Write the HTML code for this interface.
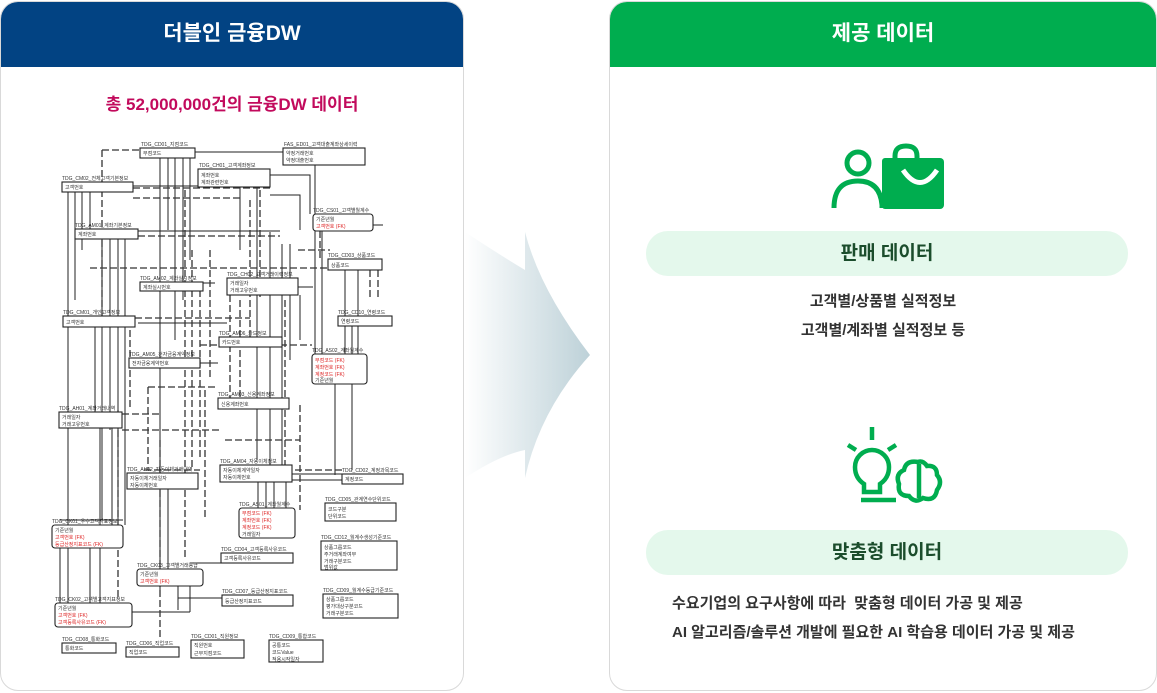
<!DOCTYPE html>
<html><head><meta charset="utf-8"><style>
body{margin:0;width:1157px;height:693px;background:#fff;overflow:hidden;position:relative;font-family:"Liberation Sans","Noto Sans CJK KR",sans-serif}
.panel{position:absolute;top:1px;height:690px;border:1px solid #d9d9d9;border-radius:18px;overflow:hidden;background:#fff;box-sizing:border-box}
.hd{height:65px;color:#fff;font-size:21px;font-weight:bold;text-align:center;line-height:64px}
.pill{position:absolute;left:36px;width:482px;height:45px;background:#e4f8ec;border-radius:22px;text-align:center;line-height:45px;font-size:19px;font-weight:bold;color:#1b4d2c}
.t{position:absolute;font-size:15px;color:#333;font-weight:bold;white-space:nowrap}
</style></head><body>
<div class="panel" style="left:0;width:464px">
 <div class="hd" style="background:#024383">더블인 금융DW</div>
 <div style="position:absolute;top:88px;width:100%;text-align:center;font-size:17px;font-weight:bold;color:#c20a5c">총 52,000,000건의 금융DW 데이터</div>
</div>
<div class="panel" style="left:609px;width:548px">
 <div class="hd" style="background:#00ad4f">제공 데이터</div>
 <div class="pill" style="top:229px">판매 데이터</div>
 <div class="t" style="top:288px;width:100%;text-align:center">고객별/상품별 실적정보</div>
 <div class="t" style="top:317px;width:100%;text-align:center">고객별/계좌별 실적정보 등</div>
 <div class="pill" style="top:528px">맞춤형 데이터</div>
 <div class="t" style="top:590px;left:62px">수요기업의 요구사항에 따라&nbsp; 맞춤형 데이터 가공 및 제공</div>
 <div class="t" style="top:619px;left:62px">AI 알고리즘/솔루션 개발에 필요한 AI 학습용 데이터 가공 및 제공</div>
</div>
<svg style="position:absolute;left:0;top:0" width="1157" height="693">
<defs><linearGradient id="g" x1="0" x2="1"><stop offset="0" stop-color="#fff"/><stop offset="1" stop-color="#bdd1d8"/></linearGradient></defs>
<path d="M465 232 Q500 255 525 270 L525 232 Q540 290 590 355 Q540 410 525 478 L525 450 Q500 455 465 478 Z" fill="url(#g)"/>
<!-- icon 1 -->
<g fill="none" stroke="#00ad4f" stroke-width="5">
<circle cx="858" cy="163" r="11"/>
<path d="M834 208 Q834 181 858 181 Q880 181 882 205 L882 208"/>
<path d="M895 160 V156 Q895 146 906 146 Q917 146 917 156 V160"/>
</g>
<rect x="894" y="158" width="50" height="51" rx="4" fill="#00ad4f"/>
<rect x="882" y="158" width="20" height="51" rx="3" fill="#00ad4f"/>
<path d="M903 170 Q920 195 937 170" stroke="#fff" stroke-width="5" fill="none"/>
<!-- icon 2 -->
<g fill="none" stroke="#00ad4f" stroke-width="4.5">
<line x1="872" y1="427" x2="872" y2="440"/><line x1="848" y1="445" x2="856" y2="450"/><line x1="896" y1="445" x2="888" y2="450"/>
<path d="M864 492 V484 Q855 478 855 467 A17 17 0 0 1 889 467 Q889 478 880 484 V492 Z"/>
<line x1="861" y1="500" x2="896" y2="500"/>
<path d="M918 462 Q906 460 904 470 Q895 474 899 484 Q897 496 909 496 Q915 504 923 498 Q935 502 937 490 Q943 482 937 475 Q937 465 927 466 Q923 460 918 462 Z"/>
<line x1="919" y1="464" x2="919" y2="498"/>
</g>
<!-- ERD -->
<g stroke="#222" stroke-width="1" fill="none">
<path d="M68 192V610M75 192V300M82 192V250M90 192V230M102 239V520M110 239V430M118 239V530M125 239V525M95 327V412M100 428V530M112 428V525M90 548V603M100 548V603M160 158V590M168 158V230M175 158V340M183 158V300M190 158V260M240 187V250M257 187V460M270 232V466M282 244V470M290 244V360M300 295V340M315 165V354M322 231V354M345 270V354M358 270V354M352 326V354M335 384V475M352 384V470M258 482V508M266 482V508M274 482V508M286 482V508M168 489V570M178 578V610M190 586V612M60 548V603"/>
<path d="M138 231H280M133 186H198M270 175H310V214M270 195H300V230M195 152H283M138 323H227M200 363H218M203 283H215M292 474H342M292 480H342M190 563H221M178 598H222M132 612H190M123 520H60M55 527V548"/>
<path d="M298 287H313M365 225H383"/>
</g>
<g stroke="#333" stroke-width="1.3" fill="none" stroke-dasharray="7,3">
<path d="M102 150H140M102 150V320M133 188H270M133 198H240M138 236H280M90 268H328M135 318H250M200 345H312M122 414H160M122 430H220M160 440V640M200 290V460M210 250V380M230 295V400M240 300V398M250 200V350M260 190V300M285 300V470M300 405V510M295 470H342M225 440H300M148 387H218M148 387V470M144 470H200M205 390V520M118 410V600M130 330V410M185 190V560M192 250V470M298 250H330M370 270V300M378 270V300M320 231V260"/>
</g>
<g stroke="#222" stroke-width="1.1" fill="#fff">
<rect x="140" y="148" width="55" height="10"/><rect x="283" y="148" width="82" height="17"/>
<rect x="198" y="169" width="72" height="18"/><rect x="62" y="182" width="71" height="10"/>
<rect x="313" y="214" width="60" height="17" rx="3"/><rect x="75" y="229" width="63" height="10"/>
<rect x="328" y="259" width="54" height="11"/><rect x="140" y="282" width="63" height="9"/>
<rect x="227" y="278" width="71" height="17"/><rect x="338" y="316" width="54" height="10"/>
<rect x="63" y="316" width="72" height="11"/><rect x="219" y="337" width="63" height="10"/>
<rect x="129" y="358" width="71" height="10"/><rect x="312" y="354" width="55" height="30" rx="3"/>
<rect x="218" y="398" width="71" height="11"/><rect x="59" y="412" width="63" height="16"/>
<rect x="127" y="473" width="71" height="16"/><rect x="220" y="465" width="72" height="17"/>
<rect x="342" y="474" width="61" height="10"/><rect x="239" y="508" width="56" height="30" rx="3"/>
<rect x="325" y="503" width="71" height="18"/><rect x="52" y="525" width="71" height="23" rx="3"/>
<rect x="321" y="541" width="76" height="29"/><rect x="221" y="553" width="72" height="10"/>
<rect x="137" y="569" width="66" height="17" rx="3"/><rect x="222" y="595" width="71" height="11"/>
<rect x="323" y="594" width="75" height="24"/><rect x="55" y="603" width="77" height="24" rx="3"/>
<rect x="62" y="643" width="54" height="10"/><rect x="126" y="647" width="53" height="10"/>
<rect x="191" y="640" width="53" height="18"/><rect x="269" y="640" width="54" height="22"/>
</g>
<g font-size="5" fill="#333" font-family="Liberation Sans,Noto Sans CJK KR,sans-serif">
<text x="141" y="146">TDG_CD01_지점코드</text><text x="284" y="146">FAS_ED01_고객대출계좌상세이력</text>
<text x="199" y="167">TDG_CH01_고객계좌정보</text><text x="62" y="180">TDG_CM02_전체고객기본정보</text>
<text x="313" y="212">TDG_CS01_고객별월계수</text><text x="75" y="227">TDG_AM01_계좌기본정보</text>
<text x="328" y="257">TDG_CD03_상품코드</text><text x="140" y="280">TDG_AM02_계좌실시정보</text>
<text x="227" y="276">TDG_CH02_고객거래이력정보</text><text x="338" y="314">TDG_CD10_연령코드</text>
<text x="63" y="314">TDG_CM01_개인고객정보</text><text x="219" y="335">TDG_AM06_카드정보</text>
<text x="129" y="356">TDG_AM05_전자금융계약정보</text><text x="312" y="352">TDG_AS02_계좌월계수</text>
<text x="218" y="396">TDG_AM03_신용계좌정보</text><text x="59" y="410">TDG_AH01_계좌거래내역</text>
<text x="127" y="471">TDG_AH02_자동이체거래내역</text><text x="220" y="463">TDG_AM04_자동이체정보</text>
<text x="342" y="472">TDG_CD02_계정과목코드</text><text x="239" y="506">TDG_AS01_계좌월계수</text>
<text x="325" y="501">TDG_CD05_관계연수단위코드</text><text x="52" y="523">TDG_CK01_우수고객지표정보</text>
<text x="321" y="539">TDG_CD12_월계수생성기준코드</text><text x="221" y="551">TDG_CD04_고객등록사유코드</text>
<text x="137" y="567">TDG_CK03_고객별거래등급</text><text x="222" y="593">TDG_CD07_등급산정지표코드</text>
<text x="323" y="592">TDG_CD09_월계수등급기준코드</text><text x="55" y="601">TDG_CK02_고객별고객지표정보</text>
<text x="62" y="641">TDG_CD08_통화코드</text><text x="126" y="645">TDG_CD06_직업코드</text>
<text x="191" y="638">TDG_CD01_직원정보</text><text x="269" y="638">TDG_CD09_통합코드</text>
<text x="143" y="155">부점코드</text><text x="286" y="155">약정거래번호</text><text x="286" y="162">약정대출번호</text>
<text x="201" y="177">계좌번호</text><text x="201" y="184">계좌관련번호</text><text x="65" y="189">고객번호</text>
<text x="316" y="221">기준년월</text><text x="316" y="228" fill="#d22">고객번호 (FK)</text><text x="78" y="236">계좌번호</text>
<text x="331" y="267">상품코드</text><text x="143" y="289">계좌실시번호</text><text x="230" y="285">거래일자</text><text x="230" y="292">거래고유번호</text>
<text x="341" y="323">연령코드</text><text x="66" y="324">고객번호</text><text x="222" y="344">카드번호</text><text x="132" y="365">전자금융계약번호</text>
<text x="315" y="362" fill="#d22">부점코드 (FK)</text><text x="315" y="369" fill="#d22">계좌번호 (FK)</text><text x="315" y="376" fill="#d22">계정코드 (FK)</text><text x="315" y="382">기준년월</text>
<text x="221" y="406">신용계좌번호</text><text x="62" y="419">거래일자</text><text x="62" y="426">거래고유번호</text>
<text x="130" y="480">자동이체거래일자</text><text x="130" y="487">자동이체번호</text><text x="223" y="472">자동이체계약일자</text><text x="223" y="479">자동이체번호</text>
<text x="345" y="481">계정코드</text><text x="242" y="515" fill="#d22">부점코드 (FK)</text><text x="242" y="522" fill="#d22">계좌번호 (FK)</text><text x="242" y="529" fill="#d22">계정코드 (FK)</text><text x="242" y="536">거래일자</text>
<text x="328" y="511">코드구분</text><text x="328" y="518">단위코드</text><text x="55" y="532">기준년월</text><text x="55" y="539" fill="#d22">고객번호 (FK)</text><text x="55" y="546" fill="#d22">등급산정지표코드 (FK)</text>
<text x="324" y="549">상품그룹코드</text><text x="324" y="556">주거래계좌여부</text><text x="324" y="563">거래구분코드</text><text x="324" y="569">범위값</text>
<text x="224" y="560">고객등록사유코드</text><text x="140" y="576">기준년월</text><text x="140" y="583" fill="#d22">고객번호 (FK)</text>
<text x="225" y="603">등급산정지표코드</text><text x="326" y="601">상품그룹코드</text><text x="326" y="608">평가대상구분코드</text><text x="326" y="615">거래구분코드</text>
<text x="58" y="610">기준년월</text><text x="58" y="617" fill="#d22">고객번호 (FK)</text><text x="58" y="624" fill="#d22">고객등록사유코드 (FK)</text>
<text x="65" y="650">통화코드</text><text x="129" y="654">직업코드</text><text x="194" y="647">직원번호</text><text x="194" y="655">근무지점코드</text>
<text x="272" y="647">공통코드</text><text x="272" y="654">코드Value</text><text x="272" y="661">적용시작일자</text>
</g>
</svg>
</body></html>
